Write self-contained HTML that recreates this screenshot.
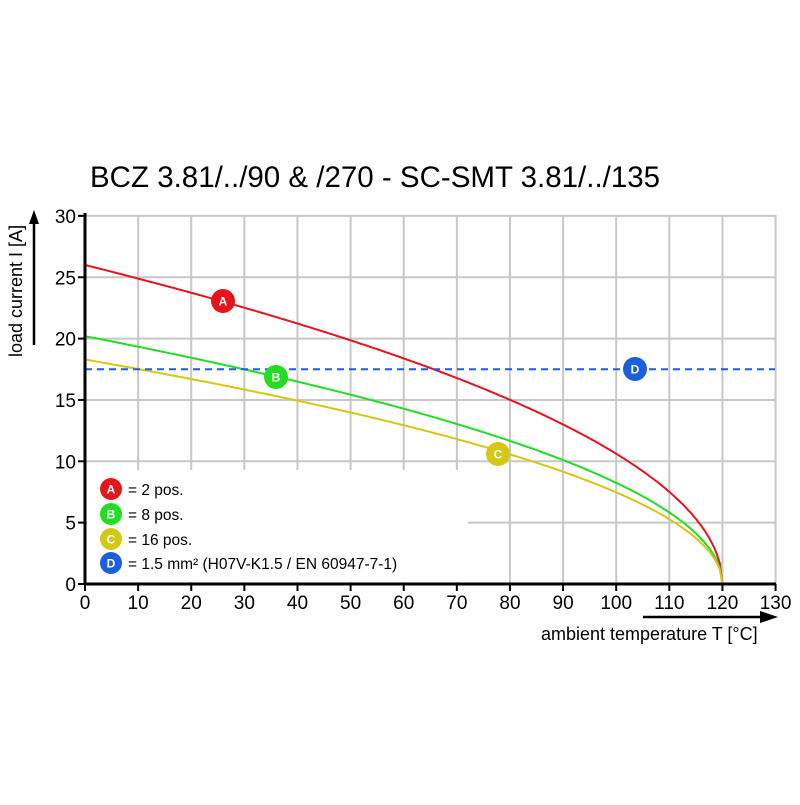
<!DOCTYPE html><html><head><style>body{margin:0;background:#fff}svg{font-family:"Liberation Sans",Arial,sans-serif}</style></head><body>
<svg id="s" width="800" height="800" viewBox="0 0 800 800">
<text x="90" y="187" font-size="29.5">BCZ 3.81/../90 &amp; /270 - SC-SMT 3.81/../135</text>
<g id="grid" stroke="#c8c8c8" stroke-width="2"></g>
<rect x="87" y="470" width="381" height="112" fill="#fff"/>
<g id="curves" fill="none" stroke-width="2"></g>
<line x1="85" y1="369.3" x2="775" y2="369.3" stroke="#1a5fe0" stroke-width="2" stroke-dasharray="7,5"/>
<g stroke="#000" stroke-width="3"><line x1="85" y1="213" x2="85" y2="585"/><line x1="84" y1="584" x2="776" y2="584"/></g>
<g id="ticks" stroke="#000" stroke-width="2"></g>
<g id="labels" font-size="19"></g>
<line x1="34" y1="345" x2="34" y2="222" stroke="#000" stroke-width="2.5"/><polygon points="34,210 29,224 39,224"/>
<text transform="translate(22,357) rotate(-90)" font-size="18">load current I [A]</text>
<line x1="643" y1="617" x2="762" y2="617" stroke="#000" stroke-width="2.5"/><polygon points="778,617 760,611 760,623"/>
<text x="541" y="640" font-size="18">ambient temperature T [°C]</text>
<g id="marks" font-size="12" font-weight="bold" fill="#fff" text-anchor="middle"></g>
<g font-size="15.5"><text x="128" y="495">= 2 pos.</text><text x="128" y="520">= 8 pos.</text><text x="128" y="545">= 16 pos.</text><text x="128" y="569">= 1.5 mm² (H07V-K1.5 / EN 60947-7-1)</text></g>
</svg>
<script>
var X=t=>85+t*5.312,Y=v=>584-v*12.27,ns="http://www.w3.org/2000/svg";
function el(p,n,a,txt){var e=document.createElementNS(ns,n);for(var k in a)e.setAttribute(k,a[k]);if(txt)e.textContent=txt;document.getElementById(p).appendChild(e);}
for(var i=1;i<=13;i++)el("grid","line",{x1:X(i*10),y1:215,x2:X(i*10),y2:584});
for(var j=1;j<=6;j++)el("grid","line",{x1:85,y1:Y(j*5),x2:775,y2:Y(j*5)});
for(var i=0;i<=13;i++){el("ticks","line",{x1:X(i*10),y1:584,x2:X(i*10),y2:591});el("labels","text",{x:X(i*10),y:609,"text-anchor":"middle"},""+i*10);}
for(var j=0;j<=6;j++){el("ticks","line",{x1:78,y1:Y(j*5),x2:85,y2:Y(j*5)});el("labels","text",{x:76,y:Y(j*5)+7,"text-anchor":"end"},""+j*5);}
[[26,"#e8141b"],[20.2,"#22dd22"],[18.3,"#d4c814"]].forEach(function(c){var d="";for(var t=0;t<=120;t+=0.5){d+=(t?"L":"M")+X(t).toFixed(1)+","+Y(c[0]*Math.sqrt((120-t)/120)).toFixed(1);}el("curves","path",{d:d,stroke:c[1]});});
[[223,301,"#e8141b","A"],[276,377,"#22dd22","B"],[498,454,"#d4c814","C"],[635,369,"#1a5fe0","D"],[111,489,"#e8141b","A"],[111,514,"#22dd22","B"],[111,539,"#d4c814","C"],[111,563,"#1a5fe0","D"]].forEach(function(m){var r=m[0]<150?11:12;el("marks","circle",{cx:m[0],cy:m[1],r:r,fill:m[2]});el("marks","text",{x:m[0],y:m[1]+4.5},m[3]);});
</script>
</body></html>
